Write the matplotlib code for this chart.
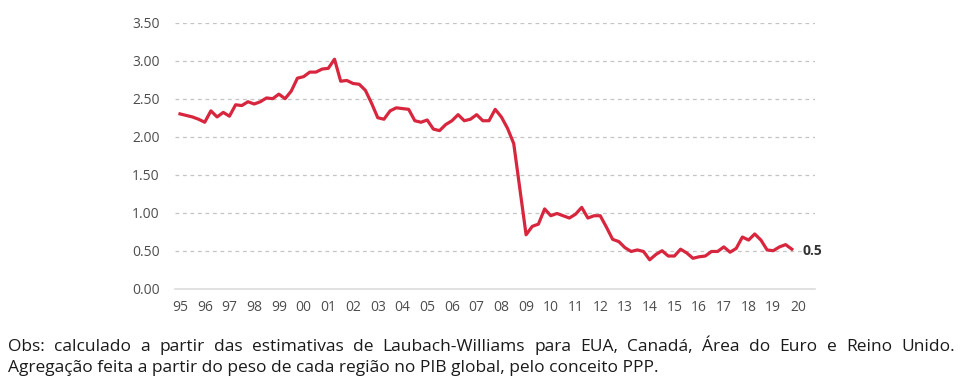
import matplotlib
matplotlib.use('Agg')
import matplotlib.pyplot as plt
import numpy as np

plt.rcParams['font.family'] = ['Open Sans', 'DejaVu Sans']

# quarterly values, 1995Q1 .. 2019Q4
values = [
    2.30, 2.28, 2.26, 2.23, 2.19,
    2.34, 2.26, 2.32, 2.27, 2.42,
    2.41, 2.46, 2.43, 2.46, 2.51,
    2.50, 2.56, 2.50, 2.60, 2.77,
    2.79, 2.85, 2.85, 2.89, 2.90,
    3.02, 2.73, 2.74, 2.70, 2.69,
    2.61, 2.44, 2.25, 2.23, 2.34,
    2.38, 2.37, 2.36, 2.21, 2.19,
    2.22, 2.10, 2.08, 2.16, 2.21,
    2.29, 2.21, 2.23, 2.29, 2.21,
    2.21, 2.36, 2.26, 2.11, 1.91,
    1.31, 0.71, 0.82, 0.85, 1.05,
    0.96, 0.99, 0.96, 0.93, 0.98,
    1.07, 0.93, 0.96, 0.96, 0.81,
    0.65, 0.62, 0.54, 0.49, 0.51,
    0.49, 0.38, 0.45, 0.50, 0.43,
    0.43, 0.52, 0.47, 0.40, 0.42,
    0.43, 0.49, 0.49, 0.55, 0.48,
    0.53, 0.68, 0.64, 0.72, 0.64,
    0.51, 0.50, 0.55, 0.58, 0.52,
]
years = list(range(1995, 2021))
year_labels = ['{:02d}'.format(y % 100) for y in years]
y_ticks = [0.0, 0.5, 1.0, 1.5, 2.0, 2.5, 3.0, 3.5]
end_label = '0.5'

note_1 = ('Obs: calculado a partir das estimativas de Laubach-Williams para EUA, '
          'Canadá, Área do Euro e Reino Unido.')
note_2 = 'Agregação feita a partir do peso de cada região no PIB global, pelo conceito PPP.'

W, H = 964, 379
fig = plt.figure(figsize=(W / 100, H / 100), dpi=100)
ax = fig.add_axes([175 / W, 1 - 288.7 / H, 640 / W, 266 / H])

x = 1995 + np.arange(len(values)) / 4
red = '#d7263d'
ax.plot(x, values, color=red, lw=2.3, zorder=3)

ax.set_xlim(1995 - 5 / 24.72, 1995 + 635 / 24.72)
ax.set_ylim(0, 3.5)
ax.set_yticks(y_ticks)
ax.set_yticklabels(['{:.2f}'.format(v) for v in y_ticks])
ax.set_xticks(years)
ax.set_xticklabels(year_labels)
ax.tick_params(length=0, labelsize=10, colors='#4d4d4d')
ax.tick_params(axis='y', pad=11)
ax.tick_params(axis='x', pad=8)

for s in ['top', 'right', 'left']:
    ax.spines[s].set_visible(False)
ax.spines['bottom'].set_color('#dcdcdc')
ax.spines['bottom'].set_linewidth(1.2)

for v in y_ticks[1:]:
    ax.axhline(v, color='#c4c4c4', lw=0.9, ls=(0, (3, 3)), zorder=1)

ax.annotate(end_label, (x[-1], values[-1]), xytext=(8, -1), textcoords='offset points',
            va='center', ha='left', fontsize=10, fontweight='bold', color='#333333',
            bbox=dict(facecolor='white', edgecolor='none', pad=1), zorder=4)

# footnote, first line justified to the full width
renderer = fig.canvas.get_renderer()
left_px, right_px = 8, 955
words = note_1.split(' ')
txts = [fig.text(0, 1 - 347 / H, w, fontsize=12.5, color='#1a1a1a', va='center') for w in words]
widths = [t.get_window_extent(renderer).width for t in txts]
gap = (right_px - left_px - sum(widths)) / (len(words) - 1)
pos = left_px
for t, w in zip(txts, widths):
    t.set_x(pos / W)
    pos += w + gap
fig.text(left_px / W, 1 - 368 / H, note_2, fontsize=12.5, color='#1a1a1a', va='center')

fig.savefig('out.png', dpi=100)
